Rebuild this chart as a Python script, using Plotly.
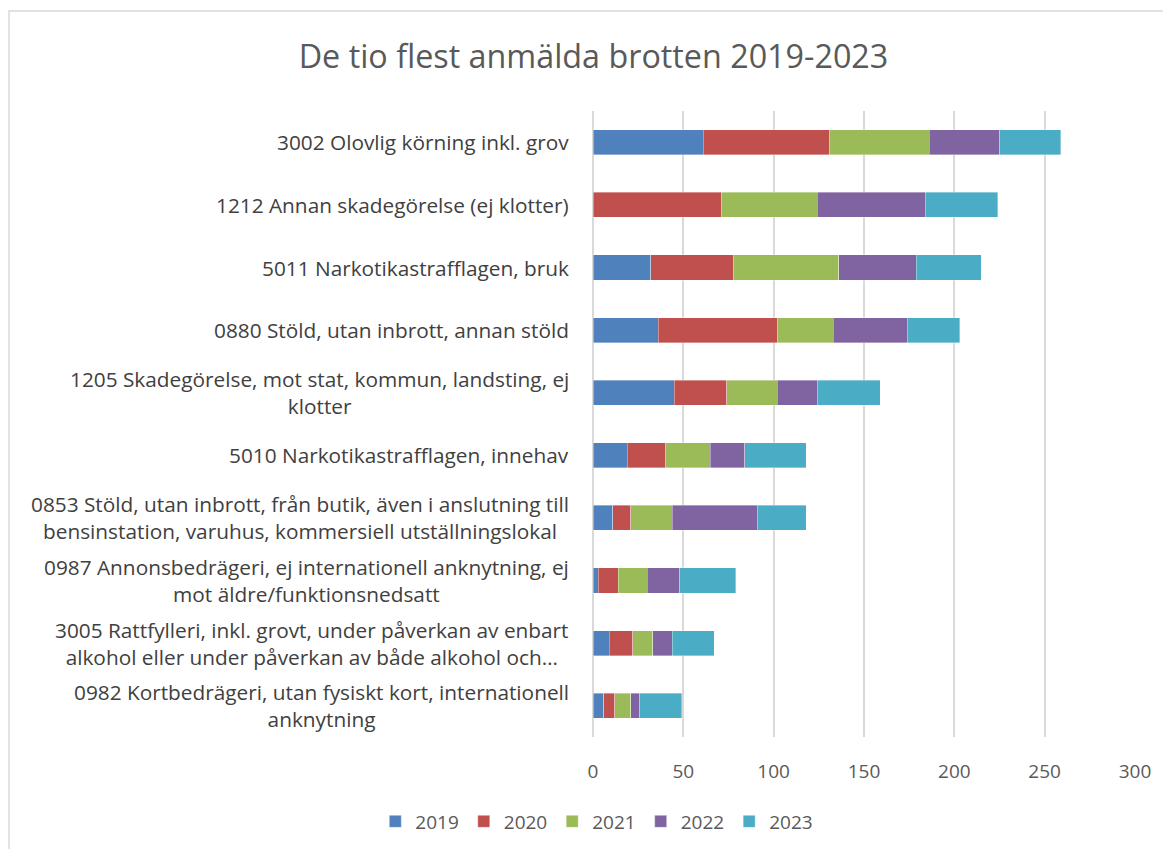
import plotly.graph_objects as go

categories = [
    "3002 Olovlig körning inkl. grov",
    "1212 Annan skadegörelse (ej klotter)",
    "5011 Narkotikastrafflagen, bruk",
    "0880 Stöld, utan inbrott, annan stöld",
    "1205 Skadegörelse, mot stat, kommun, landsting, ej<br>klotter",
    "5010 Narkotikastrafflagen, innehav",
    "0853 Stöld, utan inbrott, från butik, även i anslutning till<br>bensinstation, varuhus, kommersiell utställningslokal",
    "0987 Annonsbedrägeri, ej internationell anknytning, ej<br>mot äldre/funktionsnedsatt",
    "3005 Rattfylleri, inkl. grovt, under påverkan av enbart<br>alkohol eller under påverkan av både alkohol och…",
    "0982 Kortbedrägeri, utan fysiskt kort, internationell<br>anknytning",
]

years = ["2019", "2020", "2021", "2022", "2023"]
v2019 = [61, 0, 32, 36, 45, 19, 11, 3, 9, 6]
v2020 = [70, 71, 46, 66, 29, 21, 10, 11, 13, 6]
v2021 = [55, 53, 58, 31, 28, 25, 23, 16, 11, 9]
v2022 = [39, 60, 43, 41, 22, 19, 47, 18, 11, 5]
v2023 = [34, 40, 36, 29, 35, 34, 27, 31, 23, 23]

colors = ["#4f81bd", "#c0504d", "#9bbb59", "#8064a2", "#4bacc6"]

fig = go.Figure()
for year, vals, col in zip(years, [v2019, v2020, v2021, v2022, v2023], colors):
    fig.add_trace(go.Bar(
        y=categories,
        x=vals,
        name=year,
        orientation="h",
        marker=dict(color=col, line=dict(color="rgba(255,255,255,0.6)", width=0.6)),
    ))

# kategorietiketter som annotationer (centrerade flerradiga etiketter)
for cat in categories:
    fig.add_annotation(
        x=0, xref="paper", xanchor="right", xshift=-22,
        y=cat, yref="y", yanchor="middle",
        text=cat, align="center", showarrow=False,
        font=dict(size=20.8, color="#404040"),
    )

font_main = "Open Sans, Noto Sans, sans-serif"

# sidan har 8px marginal i body, därför förskjuts marginalerna
fig.update_layout(
    barmode="stack",
    bargap=0.6,
    width=1171,
    height=849,
    paper_bgcolor="white",
    plot_bgcolor="white",
    font=dict(family=font_main, size=19, color="#595959"),
    title=dict(
        text="De tio flest anmälda brotten 2019-2023",
        x=0.5, xanchor="center", xref="container",
        y=0.943, yanchor="middle",
        font=dict(size=32.3, color="#595959"),
    ),
    margin=dict(l=585, r=44, t=103, b=120),
    xaxis=dict(
        range=[0, 300],
        dtick=50,
        showgrid=True,
        gridcolor="#d9d9d9",
        gridwidth=1.5,
        zeroline=True,
        zerolinecolor="#d9d9d9",
        zerolinewidth=1.5,
        ticks="",
        tickfont=dict(size=19, color="#595959"),
        ticklabelstandoff=21,
    ),
    yaxis=dict(
        autorange="reversed",
        showgrid=False,
        showticklabels=False,
        ticks="",
    ),
    legend=dict(
        orientation="h",
        x=0.007, xanchor="center",
        y=-0.135, yanchor="middle",
        font=dict(size=19, color="#595959"),
        traceorder="normal",
        itemwidth=30,
    ),
    shapes=[dict(
        type="rect", xref="paper", yref="paper",
        x0=-1.0775, x1=1.2, y0=-0.2, y1=1.1597,
        line=dict(color="#d9d9d9", width=1.5),
        fillcolor="rgba(0,0,0,0)",
        layer="below",
    )],
)

fig.write_html("out.html")
